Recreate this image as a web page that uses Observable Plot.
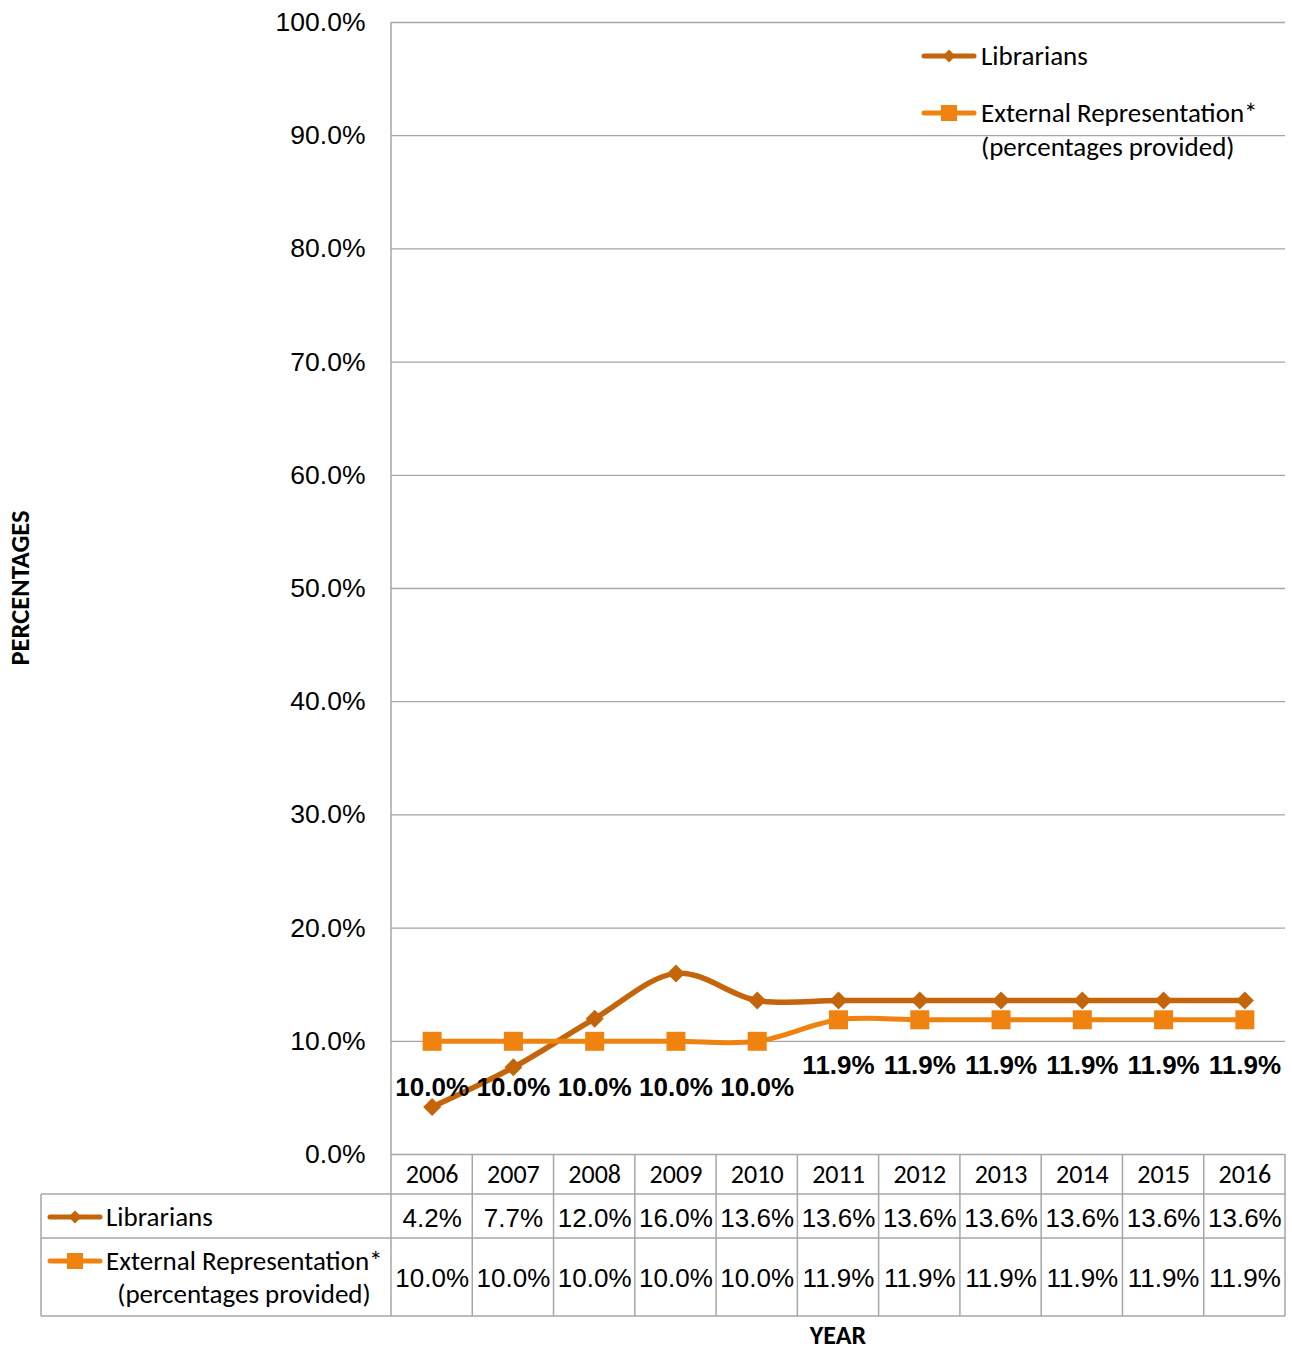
<!DOCTYPE html>
<html><head><meta charset="utf-8">
<script src="https://cdn.jsdelivr.net/npm/d3@7"></script>
<script src="https://cdn.jsdelivr.net/npm/@observablehq/plot@0.6"></script>
<style>body{margin:0;background:#fff}</style>
</head><body><div id="chart"></div>
<script>
// ---- data ----
const years = [2006, 2007, 2008, 2009, 2010, 2011, 2012, 2013, 2014, 2015, 2016];
const librarians = [4.2, 7.7, 12.0, 16.0, 13.6, 13.6, 13.6, 13.6, 13.6, 13.6, 13.6];
const external = [10.0, 10.0, 10.0, 10.0, 10.0, 11.9, 11.9, 11.9, 11.9, 11.9, 11.9];
const yTicks = [0, 10, 20, 30, 40, 50, 60, 70, 80, 90, 100];
const seriesNames = ["Librarians", "External Representation*"];
const seriesNote = "(percentages provided)";
const xLabel = "YEAR";
const yLabel = "PERCENTAGES";

// ---- styles ----
const COL_LIB = "#C4650B";
const COL_EXT = "#F0820F";
const GRID = "#A6A6A6";
const SANS = "'Liberation Sans', Arial, sans-serif";
const CAL = "Carlito, Calibri, Lato, sans-serif";

const libData = years.map((year, i) => ({year, value: librarians[i]}));
const extData = years.map((year, i) => ({year, value: external[i]}));
const fmt = v => v.toFixed(1) + "%";

// fixed-size marker shapes
const diamondSym = h => ({draw(c) { c.moveTo(0, -h); c.lineTo(h, 0); c.lineTo(0, h); c.lineTo(-h, 0); c.closePath(); }});
const squareSym = h => ({draw(c) { c.moveTo(-h, -h); c.lineTo(h, -h); c.lineTo(h, h); c.lineTo(-h, h); c.closePath(); }});

function legendSymbol(g, cx, cy, color, kind) {
  g.append("line").attr("x1", cx - 25).attr("x2", cx + 25).attr("y1", cy).attr("y2", cy)
    .attr("stroke", color).attr("stroke-width", 5).attr("stroke-linecap", "round");
  const sym = kind === "diamond" ? d3.symbol(diamondSym(6.5)) : d3.symbol(squareSym(8));
  g.append("path").attr("d", sym()).attr("transform", `translate(${cx},${cy})`).attr("fill", color);
}

function tableAndLegend(index, scales) {
  const {x, y} = scales;
  const g = d3.create("svg:g");
  const y0 = y(0);
  const xl = x(years[0] - 0.5), xr = x(years[years.length - 1] + 0.5);
  const left = 41;
  const rows = [y0, y0 + 40, y0 + 84, y0 + 162];
  const lines = g.append("g").attr("stroke", GRID).attr("stroke-width", 1.5);
  lines.append("line").attr("x1", xl).attr("x2", xl).attr("y1", y(100)).attr("y2", rows[3]);
  years.forEach(yr => {
    const bx = x(yr + 0.5);
    lines.append("line").attr("x1", bx).attr("x2", bx).attr("y1", y0).attr("y2", rows[3]);
  });
  [1, 2, 3].forEach(k => {
    lines.append("line").attr("x1", left).attr("x2", xr).attr("y1", rows[k]).attr("y2", rows[k]);
  });
  lines.append("line").attr("x1", left).attr("x2", left).attr("y1", rows[1]).attr("y2", rows[3]);

  const t = g.append("g").attr("font-family", CAL).attr("font-size", 27).attr("fill", "#000")
    .attr("text-anchor", "start");
  legendSymbol(g, 75, y0 + 63, COL_LIB, "diamond");
  t.append("text").attr("x", 106).attr("y", y0 + 63).attr("dy", "0.35em").text(seriesNames[0]);
  legendSymbol(g, 75, y0 + 107, COL_EXT, "square");
  t.append("text").attr("x", 106).attr("y", y0 + 107).attr("dy", "0.35em").text(seriesNames[1]);
  t.append("text").attr("x", 244).attr("y", y0 + 140).attr("dy", "0.35em").attr("text-anchor", "middle").text(seriesNote);

  legendSymbol(g, 949, 56, COL_LIB, "diamond");
  t.append("text").attr("x", 981).attr("y", 56).attr("dy", "0.35em").text(seriesNames[0]);
  legendSymbol(g, 949, 113, COL_EXT, "square");
  t.append("text").attr("x", 981).attr("y", 113).attr("dy", "0.35em").text(seriesNames[1]);
  t.append("text").attr("x", 981).attr("y", 147).attr("dy", "0.35em").text(seriesNote);

  const cxPlot = (xl + xr) / 2;
  t.append("text").attr("x", cxPlot).attr("y", 1335).attr("dy", "0.35em").attr("text-anchor", "middle")
    .attr("font-size", 26).attr("font-weight", "bold").text(xLabel);
  t.append("text").attr("transform", `translate(20,${(y(0) + y(100)) / 2}) rotate(-90)`)
    .attr("dy", "0.35em").attr("text-anchor", "middle").attr("font-size", 26.5).attr("font-weight", "bold").text(yLabel);
  return g.node();
}

const chart = Plot.plot({
  width: 1292,
  height: 1349,
  marginLeft: 391,
  marginRight: 7,
  marginTop: 22,
  marginBottom: 195,
  x: {type: "linear", domain: [years[0] - 0.5, years[years.length - 1] + 0.5], axis: null},
  y: {domain: [0, 100], axis: null},
  style: "font-family: 'Liberation Sans', Arial, sans-serif; background: white; color: black; overflow: visible;",
  marks: [
    Plot.ruleY(yTicks, {stroke: GRID, strokeWidth: 1.3}),
    Plot.text(yTicks, {y: d => d, text: fmt, frameAnchor: "left", textAnchor: "end", dx: -26, fontSize: 26.5, fontFamily: SANS, fill: "#000"}),
    Plot.line(libData, {x: "year", y: "value", stroke: COL_LIB, strokeWidth: 5.5, curve: "cardinal"}),
    Plot.dot(libData, {x: "year", y: "value", symbol: diamondSym(9), r: 8, fill: COL_LIB, stroke: "none"}),
    Plot.line(extData, {x: "year", y: "value", stroke: COL_EXT, strokeWidth: 5, curve: "cardinal"}),
    Plot.dot(extData, {x: "year", y: "value", symbol: squareSym(9.5), r: 8, fill: COL_EXT, stroke: "none"}),
    Plot.text(extData, {x: "year", y: "value", text: d => fmt(d.value), dy: 46, fontSize: 26, fontWeight: "bold", fontFamily: SANS, fill: "#000"}),
    Plot.text(years, {x: d => d, y: () => 0, dy: 20, text: d => String(d), fontSize: 26, fontFamily: CAL, fill: "#000"}),
    Plot.text(libData, {x: "year", y: () => 0, dy: 64, text: d => fmt(d.value), fontSize: 26, fontFamily: SANS, fill: "#000"}),
    Plot.text(extData, {x: "year", y: () => 0, dy: 124, text: d => fmt(d.value), fontSize: 26, fontFamily: SANS, fill: "#000"}),
    tableAndLegend
  ]
});
document.getElementById("chart").append(chart);
</script>
</body></html>
